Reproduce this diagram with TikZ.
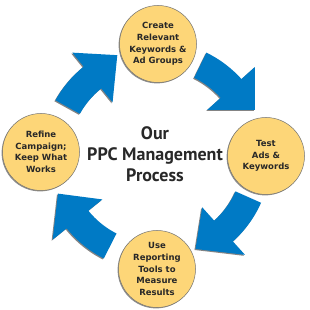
\documentclass[tikz,border=0pt]{standalone}
\usepackage{fontspec}
\setmainfont{DejaVu Sans}
\newfontfamily\ptsans{PT Sans}
\usetikzlibrary{shadows}
\definecolor{circfill}{RGB}{253,214,120}
\definecolor{arrowblue}{RGB}{0,122,197}
\definecolor{txt}{RGB}{40,40,40}
\tikzset{
  stepcircle/.style={circle, minimum size=77pt, inner sep=0pt, fill=circfill,
    draw=black!55, line width=0.5pt, align=center, text=txt,
    font=\fontsize{8.5}{11.6}\selectfont\bfseries,
    drop shadow={shadow xshift=-0.9pt, shadow yshift=-0.9pt, opacity=0.55, fill=black!80}},
  blockarrow/.style={fill=arrowblue, draw=none,
    drop shadow={shadow xshift=-1pt, shadow yshift=-1pt, opacity=0.6, fill=black!80}},
  title/.style={align=center, text=txt, font=\ptsans\fontsize{18}{21}\selectfont\bfseries}
}
\newcommand{\cyclearrow}[4]{%
  \path[blockarrow] (#1:115pt) arc[start angle=#1, end angle=#2, radius=115pt]
    -- (#2:133pt) -- (#3:#4pt) -- (#2:69pt) -- (#2:87pt)
    arc[start angle=#2, end angle=#1, radius=87pt] -- cycle;}
\begin{document}
\begin{tikzpicture}[x=1pt,y=1pt]
\useasboundingbox (0,0) rectangle (310,310);
\fill[white] (0,0) rectangle (310,310);
\coordinate (C) at (156,154);
\begin{scope}[shift={(C)}]
\cyclearrow{64}{42}{25}{109}
\cyclearrow{-24}{-48}{-67}{101}
\cyclearrow{-117}{-141}{-159}{105}
\cyclearrow{151}{129}{111}{108}
\end{scope}
\node[stepcircle] (create) at (158,266) {Create\\Relevant\\Keywords \&\\Ad Groups};
\node[stepcircle] (test) at (266,154) {Test\\Ads \&\\Keywords};
\node[stepcircle] (use) at (157,41) {Use\\Reporting\\Tools to\\Measure\\Results};
\node[stepcircle] (refine) at (41,158) {Refine\\Campaign;\\Keep What\\Works};
\node[title] (center) at (155,156) {Our\\PPC Management\\Process};
\end{tikzpicture}
\end{document}
